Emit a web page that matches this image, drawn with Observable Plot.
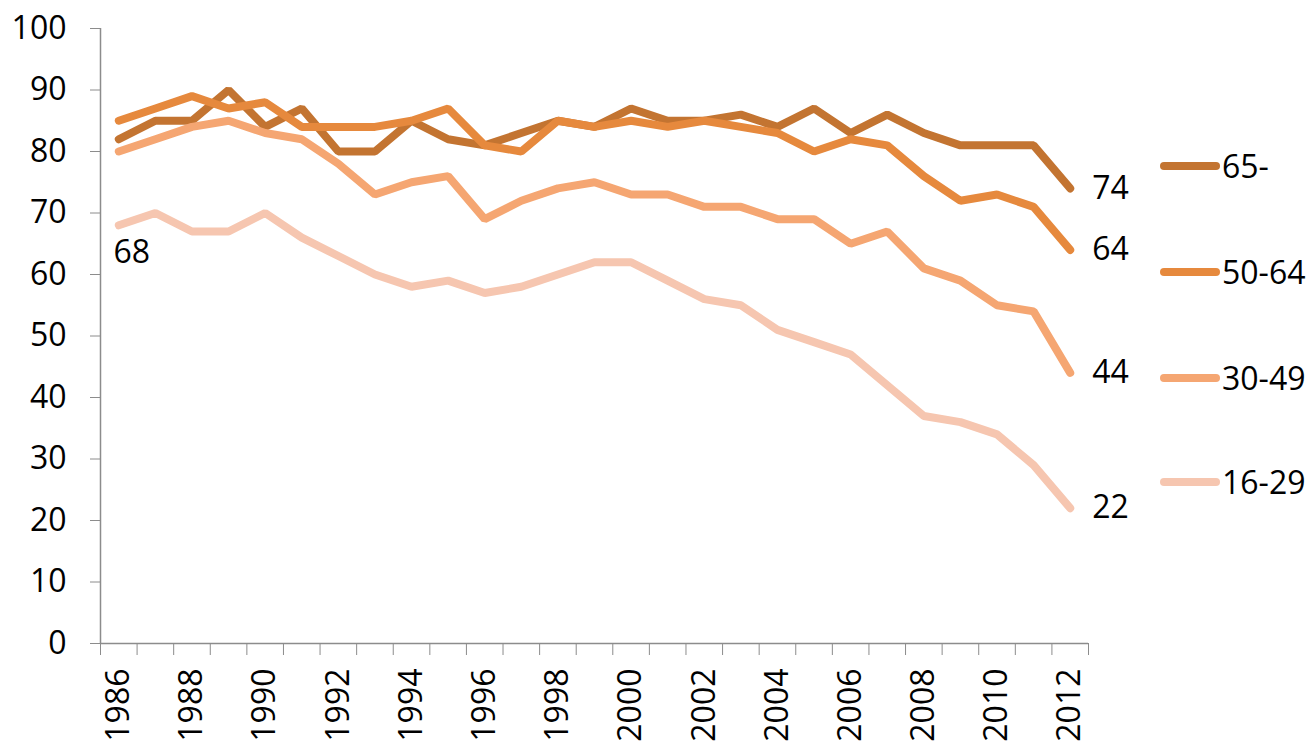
<!DOCTYPE html>
<html>
<head>
<meta charset="utf-8">
<script src="https://cdn.jsdelivr.net/npm/d3@7"></script>
<script src="https://cdn.jsdelivr.net/npm/@observablehq/plot@0.6"></script>
<style>
  html, body { margin: 0; padding: 0; background: #fff; }
  #wrap { position: relative; width: 1310px; height: 741px; font-family: 'Open Sans', sans-serif; }
  #legend { position: absolute; left: 0; top: 0; }
  .item { position: absolute; display: flex; align-items: center; height: 44px; white-space: nowrap; }
  .swatch { width: 60px; height: 8px; border-radius: 4px; flex: none; }
  .lab { font-size: 32px; line-height: 44px; color: #000; margin-left: 2px; white-space: nowrap; }
</style>
</head>
<body>
<div id="wrap"><div id="chart"></div><div id="legend"></div></div>
<script>
const years = [1986,1987,1988,1989,1990,1991,1992,1993,1994,1995,1996,1997,1998,1999,2000,2001,2002,2003,2004,2005,2006,2007,2008,2009,2010,2011,2012];
const labelYears = [1986,1988,1990,1992,1994,1996,1998,2000,2002,2004,2006,2008,2010,2012];
const yTicks = [0,10,20,30,40,50,60,70,80,90,100];
const seriesNames = ["65-","50-64","30-49","16-29"];
const seriesColors = ["#C37431","#E6893D","#F5A672","#F6C6B0"];
const s65   = [82,85,85,90,84,87,80,80,85,82,81,83,85,84,87,85,85,86,84,87,83,86,83,81,81,81,74];
const s5064 = [85,87,89,87,88,84,84,84,85,87,81,80,85,84,85,84,85,84,83,80,82,81,76,72,73,71,64];
const s3049 = [80,82,84,85,83,82,78,73,75,76,69,72,74,75,73,73,71,71,69,69,65,67,61,59,55,54,44];
const s1629 = [68,70,67,67,70,66,63,60,58,59,57,58,60,62,62,59,56,55,51,49,47,42,37,36,34,29,22];

const seriesValues = [s65, s5064, s3049, s1629];
const data = [];
seriesNames.forEach((name, i) => {
  years.forEach((yr, j) => data.push({series: name, year: yr, value: seriesValues[i][j]}));
});
const lastPoints = seriesNames.map((name, i) => ({series: name, year: years[years.length-1], value: seriesValues[i][years.length-1]}));
const firstYoung = [{series: "16-29", year: years[0], value: s1629[0]}];
const boundaries = years.map(y => y - 0.5).concat([years[years.length-1] + 0.5]);

const grey = "#8c8c8c";
const chart = Plot.plot({
  width: 1310,
  height: 741,
  marginLeft: 100,
  marginRight: 222,
  marginTop: 28,
  marginBottom: 98,
  x: {type: "linear", domain: [boundaries[0], boundaries[boundaries.length-1]]},
  y: {domain: [0, 100]},
  color: {domain: seriesNames, range: seriesColors},
  style: {fontFamily: "'Open Sans', sans-serif", fontSize: "32px", color: "#000", background: "#fff", overflow: "visible"},
  marks: [
    Plot.ruleX([boundaries[0]], {stroke: grey, strokeWidth: 1.5}),
    Plot.ruleY([0], {stroke: grey, strokeWidth: 1.5}),
    Plot.axisY({ticks: yTicks, tickSize: 10, tickPadding: 24, stroke: grey, fill: "#000", label: null, fontSize: 32}),
    Plot.axisX({ticks: boundaries, tickSize: 12, tickFormat: () => "", stroke: grey, label: null}),
    Plot.axisX({ticks: labelYears, tickSize: 0, tickPadding: 25, tickRotate: -90, tickFormat: d => String(d), fill: "#000", label: null, fontSize: 32}),
    Plot.line(data, {x: "year", y: "value", z: "series", stroke: "series", strokeWidth: 8, strokeLinecap: "round", strokeLinejoin: "miter"}),
    Plot.text(lastPoints, {x: "year", y: "value", text: d => String(d.value), textAnchor: "start", dx: 22, fill: "#000", fontSize: 32}),
    Plot.text(firstYoung, {x: "year", y: "value", text: d => String(d.value), textAnchor: "middle", dx: 13, dy: 27, fill: "#000", fontSize: 32})
  ]
});
document.getElementById("chart").appendChild(chart);

const legend = document.getElementById("legend");
const legendCenters = [166, 272, 378, 482];
seriesNames.forEach((name, i) => {
  const item = document.createElement("div");
  item.className = "item";
  item.style.left = "1160px";
  item.style.top = (legendCenters[i] - 22) + "px";
  const sw = document.createElement("div");
  sw.className = "swatch";
  sw.style.background = seriesColors[i];
  const lab = document.createElement("span");
  lab.className = "lab";
  lab.textContent = name;
  item.appendChild(sw);
  item.appendChild(lab);
  legend.appendChild(item);
});
</script>
</body>
</html>
